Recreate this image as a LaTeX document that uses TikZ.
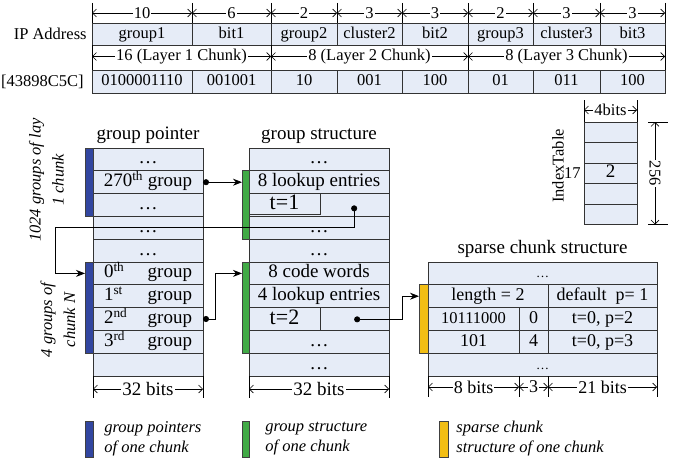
\documentclass[tikz,border=0pt]{standalone}
\usepackage{fontspec}
\setmainfont{Liberation Serif}
\usetikzlibrary{arrows,arrows.meta,positioning}

\definecolor{cellfill}{RGB}{230,236,247}
\definecolor{ptrblue}{RGB}{50,70,160}
\definecolor{gsgreen}{RGB}{65,170,70}
\definecolor{spyellow}{RGB}{242,190,20}

\newcommand{\ipfont}{\fontsize{16.5}{20}\selectfont}
\newcommand{\tabfont}{\fontsize{19}{22}\selectfont}

\tikzset{
  cell/.style={draw=black!80, line width=0.7pt, fill=cellfill, inner sep=0pt, outer sep=0pt,
    anchor=north west, minimum height=22.8pt, font=\tabfont, text height=13pt, text depth=4pt},
  ipcell/.style={cell, minimum height=22.5pt, font=\ipfont, text height=11.5pt, text depth=3.5pt},
  gpcell/.style={cell, minimum width=110pt},
  gscell/.style={cell, minimum width=140pt},
  sccell/.style={cell, font=\fontsize{18}{21}\selectfont},
  itcell/.style={cell, minimum width=53pt, minimum height=20.5pt},
  colbar/.style={draw=black!75, line width=0.7pt, minimum width=8pt, inner sep=0pt, outer sep=0pt},
  dimline/.style={{Straight Barb[length=4pt,width=8pt]}-{Straight Barb[length=4pt,width=8pt]}, line width=0.6pt},
  dimlbl/.style={fill=white, inner sep=1pt, font=\ipfont},
  sidenote/.style={font=\ipfont\itshape, align=center, inner sep=0pt},
  coltitle/.style={font=\tabfont, inner sep=0pt},
  ptrline/.style={{Circle[length=6pt]}->, line width=0.8pt}
}

\begin{document}
\begin{tikzpicture}[>={Stealth[length=9pt,width=7pt]}, x=1pt, y=-1pt, node distance=0pt, line width=0.7pt]
\useasboundingbox (0,0) rectangle (684,460);

% IP address fields
\node[ipcell, minimum width=100pt] (ipg1) at (92,23) {group1};
\node[ipcell, minimum width=79pt, right=of ipg1] (ipb1) {bit1};
\node[ipcell, minimum width=66pt, right=of ipb1] (ipg2) {group2};
\node[ipcell, minimum width=65pt, right=of ipg2] (ipc2) {cluster2};
\node[ipcell, minimum width=66pt, right=of ipc2] (ipb2) {bit2};
\node[ipcell, minimum width=65pt, right=of ipb2] (ipg3) {group3};
\node[ipcell, minimum width=67pt, right=of ipg3] (ipc3) {cluster3};
\node[ipcell, minimum width=65pt, right=of ipc3] (ipb3) {bit3};
\node[left=5pt of ipg1, font=\ipfont, inner sep=0pt] (iplbl) {IP Address};

% example address
\node[ipcell, minimum width=100pt, minimum height=23pt] (vg1) at (92,70) {0100001110};
\node[ipcell, minimum width=79pt, minimum height=23pt, right=of vg1] (vb1) {001001};
\node[ipcell, minimum width=66pt, minimum height=23pt, right=of vb1] (vg2) {10};
\node[ipcell, minimum width=65pt, minimum height=23pt, right=of vg2] (vc2) {001};
\node[ipcell, minimum width=66pt, minimum height=23pt, right=of vc2] (vb2) {100};
\node[ipcell, minimum width=65pt, minimum height=23pt, right=of vb2] (vg3) {01};
\node[ipcell, minimum width=67pt, minimum height=23pt, right=of vg3] (vc3) {011};
\node[ipcell, minimum width=65pt, minimum height=23pt, right=of vc3] (vb3) {100};
\node[left=8pt of vg1, font=\ipfont, inner sep=0pt] (addr) {[43898C5C]};

% field widths
\path[dimline] ([yshift=10pt]ipg1.north west) edge node[dimlbl] {10} ([yshift=10pt]ipg1.north east)
               ([yshift=10pt]ipb1.north west) edge node[dimlbl] {6} ([yshift=10pt]ipb1.north east)
               ([yshift=10pt]ipg2.north west) edge node[dimlbl] {2} ([yshift=10pt]ipg2.north east)
               ([yshift=10pt]ipc2.north west) edge node[dimlbl] {3} ([yshift=10pt]ipc2.north east)
               ([yshift=10pt]ipb2.north west) edge node[dimlbl] {3} ([yshift=10pt]ipb2.north east)
               ([yshift=10pt]ipg3.north west) edge node[dimlbl] {2} ([yshift=10pt]ipg3.north east)
               ([yshift=10pt]ipc3.north west) edge node[dimlbl] {3} ([yshift=10pt]ipc3.north east)
               ([yshift=10pt]ipb3.north west) edge node[dimlbl] {3} ([yshift=10pt]ipb3.north east);
\draw[line width=0.6pt] ([yshift=20pt]ipg1.north west) -- (ipg1.north west)
  ([yshift=20pt]ipb1.north west) -- (ipb1.north west)
  ([yshift=20pt]ipg2.north west) -- (ipg2.north west)
  ([yshift=20pt]ipc2.north west) -- (ipc2.north west)
  ([yshift=20pt]ipb2.north west) -- (ipb2.north west)
  ([yshift=20pt]ipg3.north west) -- (ipg3.north west)
  ([yshift=20pt]ipc3.north west) -- (ipc3.north west)
  ([yshift=20pt]ipb3.north west) -- (ipb3.north west)
  ([yshift=20pt]ipb3.north east) -- (ipb3.north east);

% layer chunks
\path[dimline] ([yshift=-11pt]ipg1.south west) edge node[dimlbl] {16 (Layer 1 Chunk)} ([yshift=-11pt]ipb1.south east)
               ([yshift=-11pt]ipg2.south west) edge node[dimlbl] {8 (Layer 2 Chunk)} ([yshift=-11pt]ipb2.south east)
               ([yshift=-11pt]ipg3.south west) edge node[dimlbl] {8 (Layer 3 Chunk)} ([yshift=-11pt]ipb3.south east);
\draw[line width=0.6pt] (ipg1.south west) -- (vg1.north west) (ipb1.south east) -- (vb1.north east)
  (ipb2.south east) -- (vb2.north east) (ipb3.south east) -- (vb3.north east);

% group pointer
\node[gpcell] (gp1) at (93,148) {\dots};
\node[gpcell, below=of gp1] (gp2) {270\textsuperscript{th} group};
\node[gpcell, below=of gp2] (gp3) {\dots};
\node[gpcell, below=of gp3] (gp4) {\dots};
\node[gpcell, below=of gp4] (gp5) {\dots};
\node[gpcell, text width=88pt, below=of gp5] (gp6) {0\textsuperscript{th}\hfill group};
\node[gpcell, text width=88pt, below=of gp6] (gp7) {1\textsuperscript{st}\hfill group};
\node[gpcell, text width=88pt, below=of gp7] (gp8) {2\textsuperscript{nd}\hfill group};
\node[gpcell, text width=88pt, below=of gp8] (gp9) {3\textsuperscript{rd}\hfill group};
\node[gpcell, below=of gp9] (gp10) {};
\node[coltitle, above=4pt of gp1] (gptitle) {group pointer};
\node[colbar, fill=ptrblue, minimum height=68.4pt, left=of gp2] (pb1) {};
\node[colbar, fill=ptrblue, minimum height=91.2pt, left=of gp7.south west] (pb2) {};
\node[sidenote, text height=11.5pt, rotate=90, font=\fontsize{16.5}{23}\selectfont\itshape] (n1) at (58,180) {1024 groups of lay\\1 chunk};
\node[sidenote, rotate=90, font=\fontsize{16.5}{23}\selectfont\itshape] (n2) at (58,320) {4 groups of\\chunk N};

% group structure
\node[gscell] (gs1) at (249,148) {\dots};
\node[gscell, below=of gs1] (gs2) {8 lookup entries};
\node[gscell, below=of gs2] (gs3) {};
\node[gscell, below=of gs3] (gs4) {\dots};
\node[gscell, below=of gs4] (gs5) {\dots};
\node[gscell, below=of gs5] (gs6) {8 code words};
\node[gscell, below=of gs6] (gs7) {4 lookup entries};
\node[gscell, below=of gs7] (gs8) {};
\node[gscell, below=of gs8] (gs9) {\dots};
\node[gscell, below=of gs9] (gs10) {\dots};
\node[cell, fill=none, minimum width=71pt, minimum height=20.5pt, font=\fontsize{22}{24}\selectfont, text height=15pt] (t1) at (gs3.north west) {t=1};
\node[minimum width=69pt, minimum height=22.8pt, inner sep=0pt, anchor=north east] (gs3r) at (gs3.north east) {};
\node[cell, fill=none, minimum width=71pt, font=\fontsize{22}{24}\selectfont, text height=15pt] (t2) at (gs8.north west) {t=2};
\node[minimum width=69pt, minimum height=22.8pt, inner sep=0pt, anchor=north east] (gs8r) at (gs8.north east) {};
\node[coltitle, above=4pt of gs1] (gstitle) {group structure};
\node[colbar, fill=gsgreen, minimum width=7pt, minimum height=68.4pt, left=of gs3] (gb1) {};
\node[colbar, fill=gsgreen, minimum width=7pt, minimum height=91.2pt, left=of gs7.south west] (gb2) {};

% sparse chunk structure
\node[sccell, minimum width=229pt, font=\fontsize{13}{15}\selectfont] (sc1) at (428,262) {\dots};
\node[sccell, minimum width=120pt] (len) at (sc1.south west) {length = 2};
\node[sccell, minimum width=109pt, right=of len] (dflt) {default~~p= 1};
\node[sccell, minimum width=91pt, font=\ipfont] (sa3) at (len.south west) {10111000};
\node[sccell, minimum width=29pt, right=of sa3] (sb3) {0};
\node[sccell, minimum width=109pt, right=of sb3] (sd3) {t=0, p=2};
\node[sccell, minimum width=91pt] (sa4) at (sa3.south west) {101};
\node[sccell, minimum width=29pt, right=of sa4] (sb4) {4};
\node[sccell, minimum width=109pt, right=of sb4] (sd4) {t=0, p=3};
\node[sccell, minimum width=229pt, font=\fontsize{13}{15}\selectfont] (sc5) at (sa4.south west) {\dots};
\node[coltitle, above=4pt of sc1] (sctitle) {sparse chunk structure};
\node[colbar, fill=spyellow, minimum width=9pt, minimum height=68.4pt, left=of sa3] (yb) {};

% index table
\node[itcell] (it1) at (584,122) {};
\node[itcell, below=of it1] (it2) {};
\node[itcell, below=of it2] (it3) {2};
\node[itcell, below=of it3] (it4) {};
\node[itcell, below=of it4] (it5) {};
\node[left=3pt of it3, font=\ipfont, inner sep=0pt] (row17) {17};
\node[rotate=90, font=\ipfont, inner sep=0pt] (itname) at (558,166) {IndexTable};

% sizes
\path[dimline] ([yshift=-13pt]gp10.south west) edge node[dimlbl, font=\tabfont] {32 bits} ([yshift=-13pt]gp10.south east)
               ([yshift=-13pt]gs10.south west) edge node[dimlbl, font=\tabfont] {32 bits} ([yshift=-13pt]gs10.south east);
\draw[line width=0.6pt] (gp10.south west) -- ([yshift=-22pt]gp10.south west) (gp10.south east) -- ([yshift=-22pt]gp10.south east)
  (gs10.south west) -- ([yshift=-22pt]gs10.south west) (gs10.south east) -- ([yshift=-22pt]gs10.south east);
\coordinate (d0) at (sc5.south west);
\coordinate (d1) at (sa4.east |- sc5.south);
\coordinate (d2) at (sb4.east |- sc5.south);
\coordinate (d3) at (sc5.south east);
\path[dimline] ([yshift=-11pt]d0) edge node[dimlbl, font=\fontsize{18}{21}\selectfont] {8 bits} ([yshift=-11pt]d1)
               ([yshift=-11pt]d1) edge node[dimlbl, font=\fontsize{18}{21}\selectfont] {3} ([yshift=-11pt]d2)
               ([yshift=-11pt]d2) edge node[dimlbl, font=\fontsize{18}{21}\selectfont] {21 bits} ([yshift=-11pt]d3);
\draw[line width=0.6pt] (d0) -- ([yshift=-21pt]d0) (d1) -- ([yshift=-21pt]d1) (d2) -- ([yshift=-21pt]d2) (d3) -- ([yshift=-21pt]d3);
\path[dimline] ([yshift=12pt]it1.north west) edge node[dimlbl] {4bits} ([yshift=12pt]it1.north east)
               ([xshift=18pt]it1.north east) edge node[dimlbl, rotate=-90] {256} ([xshift=18pt]it5.south east);
\draw[line width=0.6pt] ([yshift=22pt]it1.north west) -- (it1.north west) ([yshift=22pt]it1.north east) -- (it1.north east)
  ([xshift=11pt]it1.north east) -- ([xshift=31pt]it1.north east) ([xshift=11pt]it5.south east) -- ([xshift=31pt]it5.south east);

% pointers
\coordinate (lt) at ([xshift=-38pt]gp4.west);
\draw[ptrline] (gp2.east) -- (gp2.east -| gb1.west);
\draw[ptrline] (gs3r.center) |- (lt) |- (pb2.west |- gp6.west);
\draw[ptrline] (gp8.east) -- ++(12,0) |- (gb2.west |- gs6.west);
\draw[ptrline] (gs8r.center) -- ++(48,0) |- (yb.west |- len.west);

% legend
\node[colbar, fill=ptrblue, minimum height=36pt, anchor=north west] (lgb) at (85,421) {};
\node[sidenote, align=left, font=\fontsize{16.5}{20}\selectfont\itshape, right=11pt of lgb] (lgbt) {group pointers\\of one chunk};
\node[colbar, fill=gsgreen, minimum width=7pt, minimum height=36pt, anchor=north west] (lgg) at (242,421) {};
\node[sidenote, align=left, font=\fontsize{16.5}{20}\selectfont\itshape, right=16pt of lgg] (lggt) {group structure\\of one chunk};
\node[colbar, fill=spyellow, minimum width=9pt, minimum height=36pt, anchor=north west] (lgy) at (439,421) {};
\node[sidenote, align=left, font=\fontsize{16.5}{20}\selectfont\itshape, right=8pt of lgy] (lgyt) {sparse chunk\\structure of one chunk};
\end{tikzpicture}
\end{document}
